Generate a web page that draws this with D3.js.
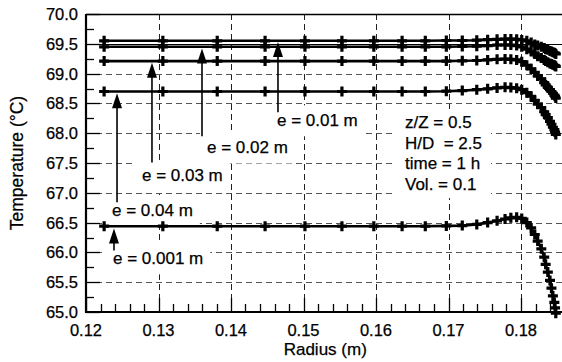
<!DOCTYPE html>
<html>
<head>
<meta charset="utf-8">
<script src="https://cdn.jsdelivr.net/npm/d3@7"></script>
<style>
  html, body { margin: 0; padding: 0; background: #fff; }
  svg { display: block; }
  text { font-family: "Liberation Sans", Arial, Helvetica, sans-serif; fill: #000; stroke: #000; stroke-width: 0.25px; }
</style>
</head>
<body>
<svg id="chart" width="562" height="362"></svg>
<script>
// ---------- data ----------
const radius = [0.1225, 0.1306, 0.1381, 0.1447, 0.1502, 0.1553, 0.1597, 0.1636, 0.1668, 0.1697,
                0.1719, 0.1739, 0.1754, 0.1767, 0.1778, 0.1786, 0.1794, 0.1801, 0.1808, 0.1814,
                0.1819, 0.1823, 0.1828, 0.1832, 0.1834, 0.1837, 0.1840, 0.1842, 0.1844, 0.1846,
                0.1847, 0.1848];

const tempE001 = [69.55, 69.55, 69.55, 69.55, 69.55, 69.55, 69.55, 69.55, 69.55, 69.555,
                  69.555, 69.56, 69.57, 69.575, 69.58, 69.58, 69.575, 69.565, 69.55, 69.52,
                  69.49, 69.47, 69.45, 69.43, 69.41, 69.40, 69.38, 69.37, 69.36, 69.35,
                  69.34, 69.33];
const tempE002 = [69.45, 69.45, 69.45, 69.45, 69.45, 69.45, 69.45, 69.45, 69.45, 69.45,
                  69.455, 69.46, 69.47, 69.48, 69.48, 69.48, 69.47, 69.45, 69.41, 69.37,
                  69.33, 69.29, 69.26, 69.23, 69.21, 69.19, 69.17, 69.16, 69.15, 69.14,
                  69.13, 69.12];
const tempE003 = [69.21, 69.21, 69.21, 69.21, 69.21, 69.21, 69.21, 69.21, 69.21, 69.21,
                  69.215, 69.22, 69.23, 69.24, 69.245, 69.24, 69.23, 69.20, 69.14, 69.08,
                  69.02, 68.96, 68.91, 68.85, 68.81, 68.77, 68.73, 68.70, 68.67, 68.64,
                  68.62, 68.59];
const tempE004 = [68.70, 68.70, 68.70, 68.70, 68.70, 68.70, 68.70, 68.70, 68.70, 68.705,
                  68.715, 68.73, 68.745, 68.76, 68.77, 68.765, 68.755, 68.73, 68.68, 68.62,
                  68.55, 68.49, 68.43, 68.36, 68.31, 68.26, 68.20, 68.15, 68.10, 68.06,
                  68.02, 67.98];
const tempE0001 = [66.44, 66.44, 66.44, 66.44, 66.44, 66.44, 66.44, 66.44, 66.44, 66.445,
                   66.45, 66.47, 66.50, 66.53, 66.56, 66.58, 66.59, 66.57, 66.50, 66.41,
                   66.30, 66.19, 66.06, 65.92, 65.80, 65.67, 65.53, 65.40, 65.27, 65.16,
                   65.07, 64.98];

const seriesNames = ["e = 0.01 m", "e = 0.02 m", "e = 0.03 m", "e = 0.04 m", "e = 0.001 m"];
const seriesValues = [tempE001, tempE002, tempE003, tempE004, tempE0001];

const xTicks = [0.12, 0.13, 0.14, 0.15, 0.16, 0.17, 0.18];
const yTicks = [65.0, 65.5, 66.0, 66.5, 67.0, 67.5, 68.0, 68.5, 69.0, 69.5, 70.0];

// annotation arrows: [radius, tip temperature, tail temperature]
const arrowR    = [0.14648, 0.13600, 0.12910, 0.12428, 0.12386];
const arrowTip  = [69.53, 69.42, 69.18, 68.67, 66.40];
const arrowTail = [68.35, 67.95, 67.51, 66.84, 66.03];
// annotation label anchors (radius of text start, temperature of baseline)
const labelR = [0.14634, 0.13669, 0.12772, 0.12359, 0.12372];
const labelT = [68.116, 67.66, 67.19, 66.61, 65.80];

const infoLines = ["z/Z = 0.5", "H/D  = 2.5", "time = 1 h", "Vol. = 0.1"];

// ---------- layout ----------
const svg = d3.select("#chart");
const L = 86, T = 14, B = 312;
const x = d3.scaleLinear().domain([0.12, 0.186]).range([L, L + 0.066 * 7250]);
const y = d3.scaleLinear().domain([65, 70]).range([B, T]);
const R = x(0.186);

const fmtY = d3.format(".1f");
const fmtX = d3.format(".2f");

// grid
const grid = svg.append("g");
grid.selectAll("line.gx").data(xTicks.slice(1)).join("line")
  .attr("x1", d => Math.round(x(d)) + 0.5).attr("x2", d => Math.round(x(d)) + 0.5)
  .attr("y1", T).attr("y2", B)
  .attr("stroke", "#222").attr("stroke-width", 1).attr("stroke-dasharray", "6,4");
grid.selectAll("line.gy").data(yTicks.filter(v => v > 65 && v < 70 && v !== 69.5)).join("line")
  .attr("x1", L).attr("x2", R)
  .attr("y1", d => Math.round(y(d)) + 0.5).attr("y2", d => Math.round(y(d)) + 0.5)
  .attr("stroke", "#555").attr("stroke-width", 1).attr("stroke-dasharray", "6,4");
// reference line at 69.5
grid.append("line").attr("x1", L).attr("x2", R)
  .attr("y1", Math.round(y(69.5)) + 0.5).attr("y2", Math.round(y(69.5)) + 0.5)
  .attr("stroke", "#000").attr("stroke-width", 1);

const boxLayer = svg.append("g");
const ticksLayer = svg.append("g");
const dataLayer = svg.append("g");
const annLayer = svg.append("g");

// ticks
const minorX = d3.range(0, 34).map(i => 0.12 + i * 0.002).filter(v => Math.abs((v * 100) - Math.round(v * 100)) > 1e-6);
const minorY = d3.range(0, 20).map(i => 65.25 + i * 0.5);
ticksLayer.selectAll("line.mx").data(minorX).join("line")
  .attr("x1", d => Math.round(x(d)) + 0.5).attr("x2", d => Math.round(x(d)) + 0.5)
  .attr("y1", B).attr("y2", B - 8).attr("stroke", "#000").attr("stroke-width", 1.3);
ticksLayer.selectAll("line.Mx").data(xTicks).join("line")
  .attr("x1", d => Math.round(x(d)) + 0.5).attr("x2", d => Math.round(x(d)) + 0.5)
  .attr("y1", B).attr("y2", B - 14).attr("stroke", "#000").attr("stroke-width", 1.3);
ticksLayer.selectAll("line.my").data(minorY.filter(v => v < 70)).join("line")
  .attr("x1", L).attr("x2", L + 8)
  .attr("y1", d => Math.round(y(d)) + 0.5).attr("y2", d => Math.round(y(d)) + 0.5)
  .attr("stroke", "#000").attr("stroke-width", 1.3);
ticksLayer.selectAll("line.My").data(yTicks).join("line")
  .attr("x1", L).attr("x2", L + 14)
  .attr("y1", d => Math.round(y(d)) + 0.5).attr("y2", d => Math.round(y(d)) + 0.5)
  .attr("stroke", "#000").attr("stroke-width", 1.3);

// frame
ticksLayer.append("line").attr("x1", L).attr("x2", R + 2).attr("y1", T + 0.5).attr("y2", T + 0.5)
  .attr("stroke", "#000").attr("stroke-width", 1.5);
ticksLayer.append("line").attr("x1", L).attr("x2", L).attr("y1", T).attr("y2", B + 1)
  .attr("stroke", "#000").attr("stroke-width", 2.2);
ticksLayer.append("line").attr("x1", L - 1).attr("x2", R + 2).attr("y1", B).attr("y2", B)
  .attr("stroke", "#000").attr("stroke-width", 2.2);
ticksLayer.append("line").attr("x1", R).attr("x2", R).attr("y1", T).attr("y2", B)
  .attr("stroke", "#000").attr("stroke-width", 1.5);

// tick labels
svg.append("g").selectAll("text").data(yTicks).join("text")
  .attr("x", 78).attr("y", d => y(d)).attr("dy", "0.36em")
  .attr("text-anchor", "end").style("font-size", "16.5px").text(d => fmtY(d));
svg.append("g").selectAll("text").data(xTicks).join("text")
  .attr("x", d => x(d)).attr("y", 336)
  .attr("text-anchor", "middle").style("font-size", "16.5px").text(d => fmtX(d));

// axis titles
svg.append("text").attr("x", (L + R) / 2).attr("y", 355).attr("text-anchor", "middle")
  .style("font-size", "17px").text("Radius (m)");
svg.append("text").attr("transform", `translate(23,${(T + B) / 2}) rotate(-90)`)
  .attr("text-anchor", "middle").style("font-size", "17.5px").text("Temperature (°C)");

// data lines
const line = d3.line().x((d, i) => x(radius[i])).y(d => y(d));
seriesValues.forEach(vals => {
  dataLayer.append("path").datum(vals).attr("d", line)
    .attr("fill", "none").attr("stroke", "#000").attr("stroke-width", 2.6);
  dataLayer.selectAll(null).data(vals).join("path")
    .attr("transform", (d, i) => `translate(${x(radius[i])},${y(d)})`)
    .attr("d", "M-5,0H5M0,-5V5")
    .attr("stroke", "#000").attr("stroke-width", 3.2).attr("fill", "none");
});

// annotation labels + arrows
seriesNames.forEach((name, i) => {
  const t = annLayer.append("text").attr("x", x(labelR[i])).attr("y", y(labelT[i]))
    .style("font-size", "17px").text(name);
  const bb = t.node().getBBox();
  boxLayer.append("rect").attr("x", bb.x - 7).attr("y", bb.y - 6)
    .attr("width", bb.width + 14).attr("height", bb.height + 12).attr("fill", "#fff");
  const ax = x(arrowR[i]), tip = y(arrowTip[i]), tail = y(arrowTail[i]);
  annLayer.append("line").attr("x1", ax).attr("x2", ax).attr("y1", tail).attr("y2", tip + 12)
    .attr("stroke", "#000").attr("stroke-width", 1.6);
  annLayer.append("path")
    .attr("d", `M${ax},${tip}L${ax - 5},${tip + 15}L${ax + 5},${tip + 15}Z`).attr("fill", "#000");
});

// info block
const info = annLayer.append("g");
infoLines.forEach((s, i) => {
  info.append("text").attr("x", 405).attr("y", 128 + i * 20.7)
    .style("font-size", "17px").style("white-space", "pre").text(s);
});
const ib = info.node().getBBox();
boxLayer.append("rect").attr("x", ib.x - 9).attr("y", ib.y - 4)
  .attr("width", ib.width + 18).attr("height", ib.height + 8).attr("fill", "#fff");
</script>
</body>
</html>
